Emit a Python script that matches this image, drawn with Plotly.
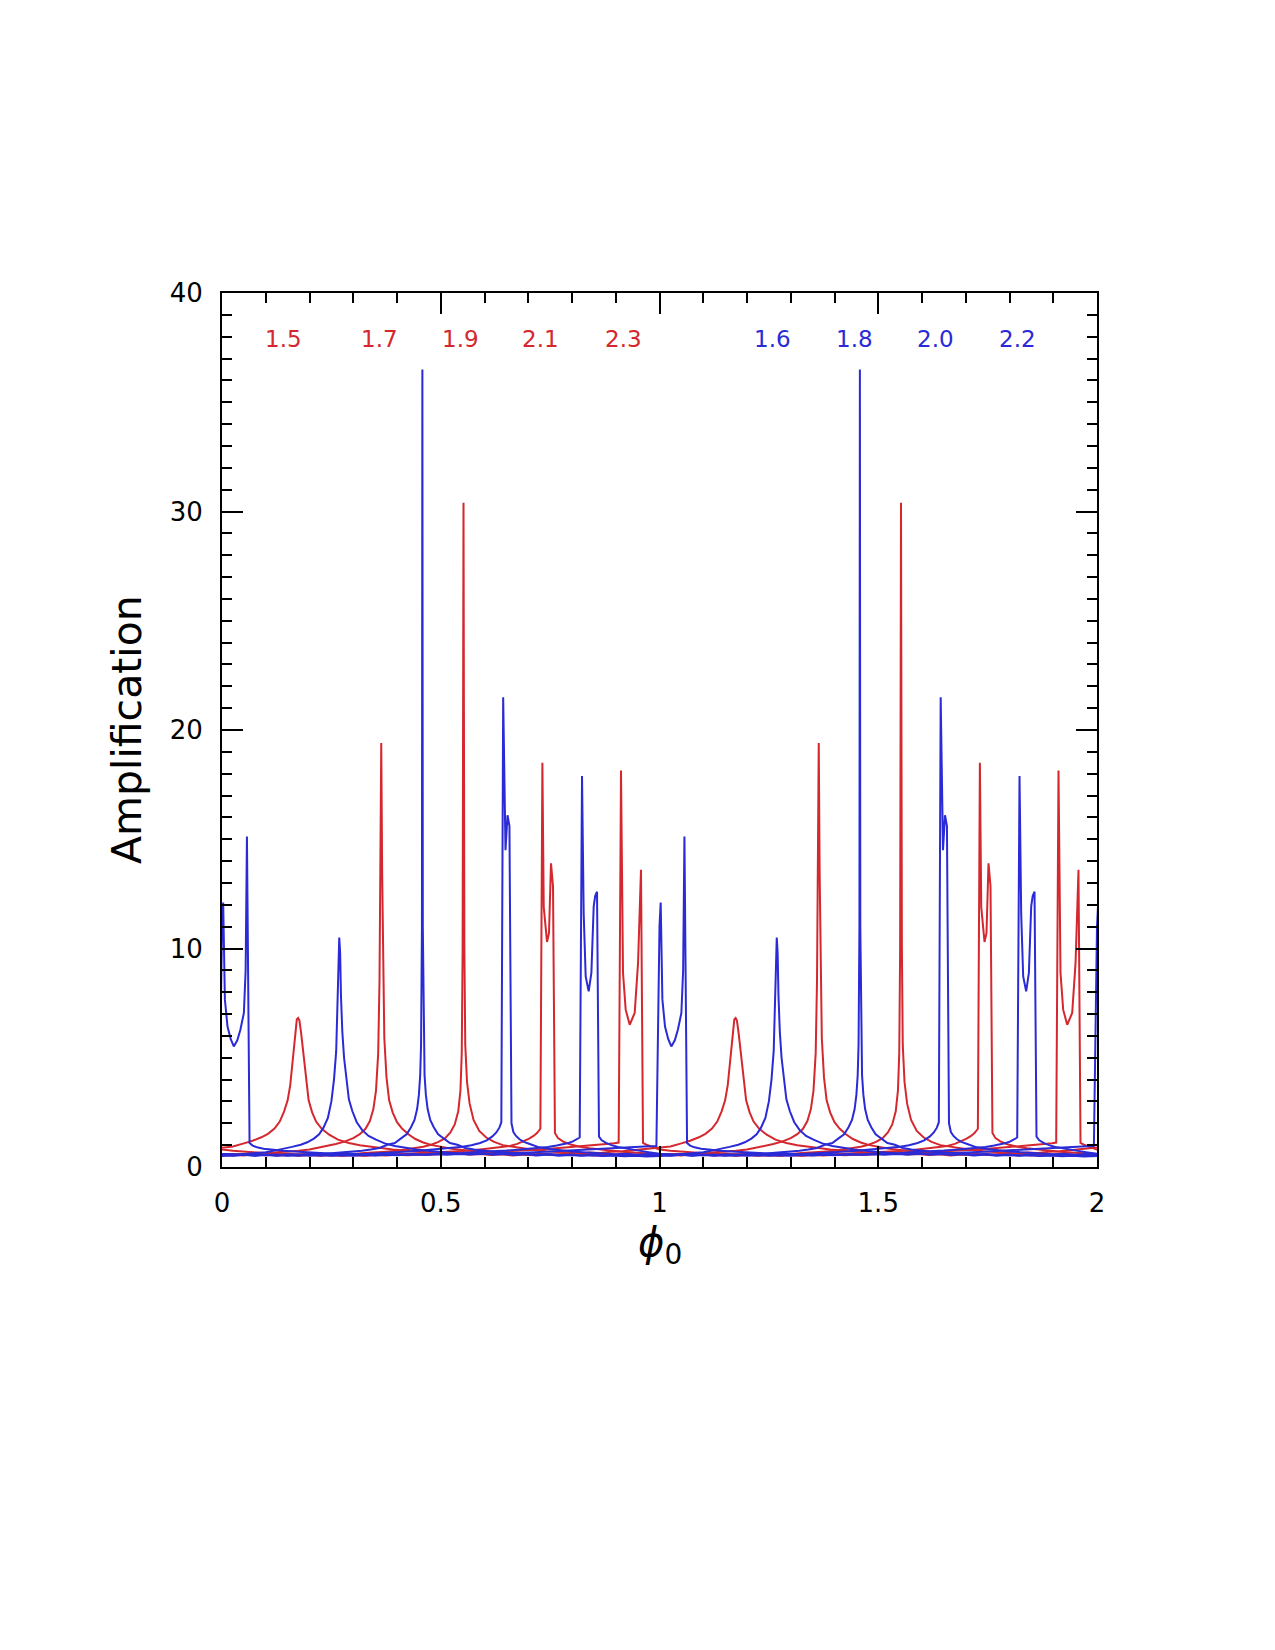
import plotly.graph_objects as go

RED = "rgb(212,40,46)"
BLUE = "rgb(42,42,214)"

# ---- one period (phi0 in [0,1)) of each curve; the curves repeat with period 1 ----
R15_X = [0.000, 0.025, 0.050, 0.070, 0.090, 0.105, 0.120, 0.132, 0.142, 0.150, 0.156, 0.162, 0.167, 0.171, 0.174,
         0.177, 0.181, 0.186, 0.192, 0.198, 0.206, 0.215, 0.228, 0.245, 0.265, 0.290, 0.315, 0.340, 0.365, 0.390,
         0.415, 0.440, 0.465, 0.490, 0.515, 0.540, 0.565, 0.590, 0.615, 0.640, 0.665, 0.690, 0.715, 0.740, 0.765,
         0.790, 0.815, 0.840, 0.865, 0.890, 0.915, 0.940, 0.960, 0.980]
R15_Y = [0.88, 0.94, 1.08, 1.20, 1.36, 1.52, 1.76, 2.08, 2.55, 3.05, 3.75, 5.00, 6.00, 6.75, 6.82,
         6.70, 6.10, 5.20, 3.85, 3.05, 2.50, 2.08, 1.75, 1.48, 1.25, 1.10, 1.00, 0.93, 0.86, 0.80,
         0.76, 0.71, 0.68, 0.64, 0.61, 0.63, 0.57, 0.60, 0.55, 0.58, 0.53, 0.57, 0.54, 0.59, 0.56,
         0.62, 0.60, 0.66, 0.64, 0.70, 0.72, 0.77, 0.80, 0.84]

R17_X = [0.000, 0.025, 0.050, 0.075, 0.100, 0.125, 0.150, 0.175, 0.200, 0.220, 0.240, 0.260, 0.280, 0.300, 0.315,
         0.328, 0.338, 0.346, 0.352, 0.357, 0.360, 0.362, 0.364, 0.366, 0.368, 0.371, 0.376, 0.382, 0.390, 0.400,
         0.412, 0.426, 0.442, 0.460, 0.480, 0.500, 0.525, 0.550, 0.575, 0.600, 0.625, 0.650, 0.675, 0.700, 0.725,
         0.750, 0.775, 0.800, 0.825, 0.850, 0.875, 0.900, 0.925, 0.950, 0.975]
R17_Y = [0.56, 0.60, 0.58, 0.63, 0.62, 0.67, 0.70, 0.74, 0.80, 0.88, 0.96, 1.05, 1.16, 1.32, 1.50,
         1.75, 2.10, 2.65, 3.50, 5.20, 8.50, 13.0, 19.4, 13.5, 9.00, 5.90, 4.10, 3.05, 2.50, 2.05,
         1.75, 1.50, 1.28, 1.12, 1.00, 0.92, 0.84, 0.78, 0.72, 0.67, 0.64, 0.60, 0.62, 0.57, 0.60,
         0.55, 0.58, 0.54, 0.57, 0.53, 0.56, 0.54, 0.58, 0.55, 0.59]

R19_X = [0.000, 0.025, 0.050, 0.075, 0.100, 0.125, 0.150, 0.175, 0.200, 0.225, 0.250, 0.275, 0.300, 0.325, 0.350,
         0.375, 0.400, 0.420, 0.440, 0.460, 0.478, 0.495, 0.510, 0.522, 0.532, 0.540, 0.545, 0.548, 0.550, 0.552,
         0.554, 0.556, 0.560, 0.566, 0.575, 0.588, 0.604, 0.622, 0.642, 0.665, 0.690, 0.715, 0.740, 0.765, 0.790,
         0.815, 0.840, 0.865, 0.890, 0.915, 0.940, 0.965, 0.985]
R19_Y = [0.52, 0.56, 0.53, 0.58, 0.54, 0.57, 0.53, 0.58, 0.55, 0.59, 0.57, 0.61, 0.60, 0.64, 0.66,
         0.70, 0.74, 0.80, 0.86, 0.93, 1.02, 1.15, 1.32, 1.58, 1.95, 2.55, 3.50, 5.20, 10.0, 30.4,
         10.0, 5.60, 3.90, 2.90, 2.15, 1.65, 1.35, 1.15, 1.00, 0.92, 0.84, 0.78, 0.72, 0.68, 0.64,
         0.62, 0.59, 0.61, 0.56, 0.59, 0.55, 0.57, 0.53]

R21_X = [0.000, 0.025, 0.050, 0.075, 0.100, 0.125, 0.150, 0.175, 0.200, 0.225, 0.250, 0.275, 0.300, 0.325, 0.350,
         0.375, 0.400, 0.425, 0.450, 0.475, 0.500, 0.525, 0.550, 0.575, 0.600, 0.620, 0.640, 0.658, 0.675, 0.690,
         0.702, 0.712, 0.720, 0.7277, 0.7323, 0.7354, 0.7400, 0.7429, 0.7474, 0.7520, 0.7566, 0.7610, 0.7680,
         0.7790, 0.7950, 0.8150, 0.8400, 0.8650, 0.8900, 0.9150, 0.9400, 0.9650, 0.9850]
R21_Y = [0.60, 0.56, 0.59, 0.54, 0.57, 0.53, 0.56, 0.52, 0.55, 0.51, 0.54, 0.52, 0.55, 0.53, 0.56,
         0.55, 0.58, 0.60, 0.62, 0.65, 0.68, 0.70, 0.73, 0.77, 0.82, 0.86, 0.90, 0.96, 1.06, 1.18,
         1.30, 1.42, 1.55, 1.75, 18.5, 11.9, 10.7, 10.3, 10.7, 13.9, 12.85, 1.56, 1.32,
         1.17, 1.04, 0.94, 0.86, 0.80, 0.74, 0.70, 0.66, 0.63, 0.61]

R23_X = [0.000, 0.025, 0.050, 0.075, 0.100, 0.125, 0.150, 0.175, 0.200, 0.225, 0.250, 0.275, 0.300, 0.325, 0.350,
         0.375, 0.400, 0.425, 0.450, 0.475, 0.500, 0.525, 0.550, 0.575, 0.600, 0.625, 0.650, 0.675, 0.700, 0.725,
         0.750, 0.775, 0.800, 0.825, 0.850, 0.870, 0.885, 0.897, 0.9067, 0.9120, 0.9166, 0.9227, 0.9319, 0.9433,
         0.9510, 0.9577, 0.9623, 0.9700, 0.9850]
R23_Y = [0.80, 0.74, 0.70, 0.66, 0.63, 0.60, 0.62, 0.57, 0.59, 0.55, 0.57, 0.53, 0.56, 0.52, 0.55,
         0.53, 0.56, 0.54, 0.57, 0.56, 0.59, 0.60, 0.62, 0.64, 0.66, 0.69, 0.71, 0.74, 0.77, 0.80,
         0.83, 0.87, 0.90, 0.94, 0.98, 1.02, 1.06, 1.09, 1.12, 18.15, 8.88, 7.20, 6.51, 7.05,
         9.34, 13.6, 1.10, 1.02, 0.92]

B16_X = [0.000, 0.025, 0.050, 0.075, 0.100, 0.120, 0.140, 0.160, 0.180, 0.195, 0.210, 0.222, 0.232, 0.242, 0.250,
         0.256, 0.261, 0.264, 0.266, 0.268, 0.270, 0.272, 0.275, 0.279, 0.284, 0.290, 0.298, 0.308, 0.320, 0.335,
         0.352, 0.372, 0.395, 0.420, 0.445, 0.470, 0.495, 0.520, 0.545, 0.570, 0.595, 0.620, 0.645, 0.670, 0.695,
         0.720, 0.745, 0.770, 0.795, 0.820, 0.845, 0.870, 0.895, 0.920, 0.945, 0.970]
B16_Y = [0.50, 0.55, 0.58, 0.62, 0.68, 0.75, 0.82, 0.92, 1.02, 1.13, 1.30, 1.50, 1.80, 2.25, 3.00,
         4.00, 5.30, 7.00, 9.00, 10.5, 9.80, 7.80, 6.20, 5.00, 4.00, 3.10, 2.55, 2.05, 1.70, 1.42,
         1.25, 1.08, 0.96, 0.87, 0.80, 0.74, 0.68, 0.65, 0.61, 0.58, 0.62, 0.56, 0.59, 0.55, 0.58,
         0.53, 0.57, 0.52, 0.55, 0.51, 0.54, 0.50, 0.53, 0.49, 0.52, 0.48]

B18_X = [0.000, 0.025, 0.050, 0.075, 0.100, 0.125, 0.150, 0.175, 0.200, 0.225, 0.250, 0.275, 0.300, 0.320, 0.340,
         0.360, 0.378, 0.395, 0.410, 0.422, 0.432, 0.440, 0.446, 0.450, 0.453, 0.455, 0.457, 0.458, 0.459, 0.461,
         0.463, 0.466, 0.470, 0.476, 0.484, 0.494, 0.506, 0.521, 0.538, 0.556, 0.576, 0.598, 0.622, 0.647, 0.672,
         0.697, 0.722, 0.747, 0.772, 0.797, 0.822, 0.847, 0.872, 0.897, 0.922, 0.947, 0.972]
B18_Y = [0.55, 0.52, 0.56, 0.53, 0.57, 0.54, 0.58, 0.56, 0.60, 0.59, 0.63, 0.66, 0.70, 0.74, 0.80,
         0.87, 1.02, 1.10, 1.32, 1.50, 1.82, 2.15, 2.65, 3.30, 4.20, 5.60, 11.0, 36.5, 11.0, 5.60,
         4.20, 3.30, 2.65, 2.15, 1.82, 1.50, 1.32, 1.10, 1.02, 0.87, 0.80, 0.74, 0.70, 0.66, 0.62,
         0.60, 0.57, 0.59, 0.55, 0.57, 0.53, 0.56, 0.52, 0.55, 0.51, 0.54, 0.52]

B20_X = [0.000, 0.025, 0.050, 0.075, 0.100, 0.125, 0.150, 0.175, 0.200, 0.225, 0.250, 0.275, 0.300, 0.325, 0.350,
         0.375, 0.400, 0.425, 0.450, 0.475, 0.500, 0.525, 0.550, 0.570, 0.590, 0.605, 0.618, 0.627, 0.634, 0.6385,
         0.6427, 0.6480, 0.6526, 0.6570, 0.6617, 0.6660, 0.6720, 0.6800, 0.6900, 0.7050, 0.7250, 0.7500, 0.7750,
         0.8000, 0.8250, 0.8500, 0.8750, 0.9000, 0.9250, 0.9500, 0.9750]
B20_Y = [0.57, 0.53, 0.56, 0.52, 0.55, 0.51, 0.54, 0.52, 0.56, 0.53, 0.57, 0.55, 0.59, 0.58, 0.62,
         0.64, 0.67, 0.71, 0.74, 0.79, 0.82, 0.86, 0.93, 1.00, 1.10, 1.22, 1.40, 1.58, 1.80, 2.05,
         21.5, 14.5, 16.1, 15.6, 2.00, 1.60, 1.42, 1.27, 1.15, 1.04, 0.90, 0.82, 0.76,
         0.71, 0.68, 0.64, 0.62, 0.58, 0.61, 0.56, 0.59]

B22_X = [0.000, 0.025, 0.050, 0.075, 0.100, 0.125, 0.150, 0.175, 0.200, 0.225, 0.250, 0.275, 0.300, 0.325, 0.350,
         0.375, 0.400, 0.425, 0.450, 0.475, 0.500, 0.525, 0.550, 0.575, 0.600, 0.625, 0.650, 0.675, 0.700, 0.725,
         0.745, 0.765, 0.780, 0.792, 0.802, 0.810, 0.8176, 0.8229, 0.8267, 0.8313, 0.8381, 0.8443, 0.8496, 0.8530,
         0.8572, 0.8617, 0.8680, 0.8780, 0.8900, 0.9050, 0.9250, 0.9500, 0.9750]
B22_Y = [0.61, 0.58, 0.56, 0.59, 0.55, 0.57, 0.53, 0.56, 0.52, 0.55, 0.51, 0.54, 0.52, 0.55, 0.53,
         0.56, 0.54, 0.57, 0.56, 0.59, 0.60, 0.62, 0.64, 0.67, 0.69, 0.72, 0.75, 0.79, 0.83, 0.87,
         0.92, 0.98, 1.04, 1.10, 1.17, 1.26, 1.35, 17.9, 11.6, 8.72, 8.04, 8.88, 11.93, 12.4,
         12.6, 1.39, 1.22, 1.10, 1.00, 0.92, 0.84, 0.76, 0.68]

B24_X = [0.0000, 0.0027, 0.0066, 0.0126, 0.0200, 0.0270, 0.0350, 0.0420, 0.0500, 0.0540, 0.0570, 0.0630, 0.0700,
         0.0800, 0.0950, 0.1150, 0.1400, 0.1650, 0.1900, 0.2150, 0.2400, 0.2650, 0.2900, 0.3150, 0.3400, 0.3650,
         0.3900, 0.4150, 0.4400, 0.4650, 0.4900, 0.5150, 0.5400, 0.5650, 0.5900, 0.6150, 0.6400, 0.6650, 0.6900,
         0.7150, 0.7400, 0.7650, 0.7900, 0.8150, 0.8400, 0.8650, 0.8900, 0.9100, 0.9300, 0.9500, 0.9650, 0.9780,
         0.9880, 0.9929]
B24_Y = [11.0, 12.1, 7.66, 6.43, 5.85, 5.52, 5.80, 6.28, 7.05, 9.00, 15.13, 1.10, 0.98,
         0.90, 0.84, 0.79, 0.74, 0.71, 0.68, 0.65, 0.63, 0.60, 0.62, 0.58, 0.61, 0.57,
         0.60, 0.56, 0.59, 0.55, 0.58, 0.56, 0.59, 0.57, 0.60, 0.59, 0.62, 0.63, 0.66,
         0.68, 0.70, 0.73, 0.76, 0.79, 0.82, 0.85, 0.88, 0.90, 0.92, 0.93, 0.94, 0.95,
         0.95, 0.96]

CURVES = [
    (R15_X, R15_Y, RED), (R17_X, R17_Y, RED), (R19_X, R19_Y, RED), (R21_X, R21_Y, RED), (R23_X, R23_Y, RED),
    (B16_X, B16_Y, BLUE), (B18_X, B18_Y, BLUE), (B20_X, B20_Y, BLUE), (B22_X, B22_Y, BLUE), (B24_X, B24_Y, BLUE),
]
PERIOD_SHIFTS = [-1, 0, 1, 2]

# ---- curve labels ----
RED_LABELS = ["1.5", "1.7", "1.9", "2.1", "2.3"]
RED_LABEL_X = [0.141, 0.360, 0.546, 0.728, 0.918]
BLUE_LABELS = ["1.6", "1.8", "2.0", "2.2"]
BLUE_LABEL_X = [1.259, 1.446, 1.631, 1.818]
LABEL_Y = 37.9

X_TICKS = [0, 0.5, 1, 1.5, 2]
X_TICKTEXT = ["0", "0.5", "1", "1.5", "2"]
Y_TICKS = [0, 10, 20, 30, 40]
Y_TICKTEXT = ["0", "10", "20", "30", "40"]

FONT = "DejaVu Sans"

fig = go.Figure()
for xs, ys, col in CURVES:
    fx, fy = [], []
    for s in PERIOD_SHIFTS:
        fx += [x + s for x in xs]
        fy += list(ys)
    fig.add_trace(go.Scatter(x=fx, y=fy, mode="lines", line=dict(color=col, width=2),
                             showlegend=False, hoverinfo="skip"))

annotations = []
for t, x in zip(RED_LABELS, RED_LABEL_X):
    annotations.append(dict(x=x, y=LABEL_Y, xref="x", yref="y", text=t, showarrow=False,
                            font=dict(family=FONT, size=23, color=RED)))
for t, x in zip(BLUE_LABELS, BLUE_LABEL_X):
    annotations.append(dict(x=x, y=LABEL_Y, xref="x", yref="y", text=t, showarrow=False,
                            font=dict(family=FONT, size=23, color=BLUE)))
annotations.append(dict(x=0.5, y=0, xref="paper", yref="paper", yanchor="top", yshift=-50,
                        text="<i>\u03d5</i><sub>0</sub>", showarrow=False,
                        font=dict(family=FONT, size=40, color="black")))
annotations.append(dict(x=0, y=0.5, xref="paper", yref="paper", xanchor="center", xshift=-95,
                        text="Amplification", textangle=-90, showarrow=False,
                        font=dict(family=FONT, size=41, color="black")))

axis_common = dict(showline=True, linewidth=2, linecolor="black", mirror="allticks",
                   ticks="inside", ticklen=21, tickwidth=2, tickcolor="black",
                   showgrid=False, zeroline=False, tickfont=dict(family=FONT, size=26, color="black"))

fig.update_layout(
    width=1275, height=1650,
    margin=dict(l=222, r=178, t=293, b=483, pad=0),
    paper_bgcolor="white", plot_bgcolor="white",
    annotations=annotations,
    xaxis=dict(range=[0, 2], tickvals=X_TICKS, ticktext=X_TICKTEXT,
               minor=dict(dtick=0.1, tick0=0, ticks="inside", ticklen=10, tickwidth=2, tickcolor="black"),
               ticklabelstandoff=12, **axis_common),
    yaxis=dict(range=[0, 40], tickvals=Y_TICKS, ticktext=Y_TICKTEXT,
               minor=dict(dtick=1, tick0=0, ticks="inside", ticklen=10, tickwidth=2, tickcolor="black"),
               ticklabelstandoff=12, **axis_common),
)

fig.write_html("out.html")
